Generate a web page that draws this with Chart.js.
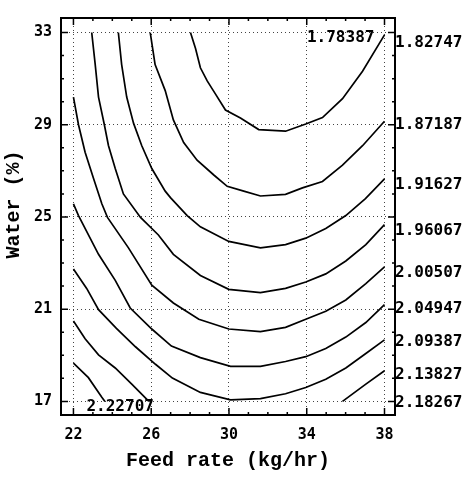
<!DOCTYPE html>
<html>
<head>
<meta charset="utf-8">
<script src="https://cdn.jsdelivr.net/npm/chart.js@4/dist/chart.umd.min.js"></script>
<style>
  html, body { margin: 0; padding: 0; background: #fff; }
  #wrap { width: 468px; height: 477px; position: relative; }
</style>
</head>
<body>
<div id="wrap"><canvas id="contour"></canvas></div>
<script>
// Axes
const xTicks = [22, 26, 30, 34, 38];
const yTicks = [17, 21, 25, 29, 33];

// Contour levels written along the right edge, and where they sit (water %)
const rightLabels = ['1.82747', '1.87187', '1.91627', '1.96067', '2.00507', '2.04947', '2.09387', '2.13827', '2.18267'];
const rightLabelAt = [32.54, 29.0, 26.41, 24.39, 22.57, 21.01, 19.58, 18.14, 16.92];

// Labels written inside the plot
const innerLabels = ['1.78387', '2.22707'];
const innerLabelAt = [[37.48, 32.75], [22.67, 16.75]];

// Contour lines, [feed rate, water]
const c1 = [[28.02, 33], [28.28, 32.31], [28.53, 31.47], [28.88, 30.90], [29.30, 30.34], [29.82, 29.64], [30.59, 29.29], [31.53, 28.79], [32.91, 28.72], [33.95, 29.03], [34.81, 29.31], [35.84, 30.13], [36.87, 31.32], [38, 32.9]];
const c2 = [[25.95, 33], [26.20, 31.61], [26.72, 30.48], [27.14, 29.21], [27.67, 28.23], [28.36, 27.46], [29.22, 26.82], [29.91, 26.33], [30.76, 26.12], [31.62, 25.91], [32.91, 25.98], [33.78, 26.26], [34.81, 26.54], [35.84, 27.25], [36.87, 28.09], [38, 29.15]];
const c3 = [[24.31, 33], [24.48, 31.61], [24.74, 30.20], [25.09, 29.07], [25.51, 28.10], [26.03, 27.10], [26.72, 26.12], [26.99, 25.84], [27.85, 25.06], [28.53, 24.57], [29.99, 23.94], [31.62, 23.66], [32.91, 23.80], [33.95, 24.08], [34.98, 24.50], [36.01, 25.06], [37.02, 25.80], [38, 26.65]];
const c4 = [[22.94, 33], [23.12, 31.61], [23.29, 30.20], [23.59, 29.0], [23.80, 28.10], [24.15, 27.10], [24.57, 26.0], [25.45, 24.98], [26.37, 24.22], [27.14, 23.38], [28.53, 22.46], [29.99, 21.86], [31.62, 21.72], [32.91, 21.90], [33.95, 22.18], [34.98, 22.53], [36.01, 23.09], [37.04, 23.80], [38, 24.67]];
const c5 = [[22, 30.20], [22.26, 29.0], [22.60, 27.81], [23.03, 26.68], [23.46, 25.57], [23.75, 24.98], [24.83, 23.66], [26.03, 22.04], [27.14, 21.27], [28.45, 20.56], [29.99, 20.14], [31.62, 20.03], [32.91, 20.21], [33.95, 20.56], [34.98, 20.91], [36.01, 21.40], [37.04, 22.11], [38, 22.83]];
const c6 = [[22, 25.57], [22.26, 25.06], [23.29, 23.38], [24.15, 22.25], [24.92, 21.05], [26.03, 20.14], [27.04, 19.4], [28.53, 18.90], [30.08, 18.52], [31.62, 18.52], [32.91, 18.73], [33.95, 18.94], [34.98, 19.29], [36.01, 19.79], [37.04, 20.42], [38, 21.2]];
const c7 = [[22, 22.74], [22.68, 21.90], [23.29, 20.98], [24.21, 20.17], [25.19, 19.37], [26.22, 18.61], [27.09, 18.01], [28.53, 17.39], [30.08, 17.07], [31.62, 17.12], [32.91, 17.33], [33.95, 17.60], [34.98, 17.96], [36.01, 18.45], [37.04, 19.08], [38, 19.67]];
const c8 = [[35.84, 17], [37.04, 17.75], [38, 18.33]];
const c9 = [[22, 20.49], [22.60, 19.72], [23.29, 19.02], [24.15, 18.45], [25.0, 17.75], [25.88, 17]];
const c10 = [[22, 18.66], [22.77, 18.03], [23.46, 17.18], [23.62, 17]];

const contours = [c1, c2, c3, c4, c5, c6, c7, c8, c9, c10];

const monoFont = 'DejaVu Sans Mono';
const titleFont = 'Liberation Mono';

// Cadre + petites graduations vers l'intérieur, et étiquettes dans le tracé
const frameAndLabels = {
    id: 'frameAndLabels',
    afterDraw(chart) {
        const { ctx, chartArea: a, scales: { x, y } } = chart;
        ctx.save();
        ctx.strokeStyle = '#000';
        ctx.lineWidth = 1.5;
        for (let v = xTicks[0]; v <= xTicks[xTicks.length - 1]; v++) {
            const px = x.getPixelForValue(v);
            const len = xTicks.includes(v) ? 7 : 3;
            ctx.beginPath();
            ctx.moveTo(px, a.bottom); ctx.lineTo(px, a.bottom - len);
            ctx.moveTo(px, a.top); ctx.lineTo(px, a.top + len);
            ctx.stroke();
        }
        for (let v = yTicks[0]; v <= yTicks[yTicks.length - 1]; v++) {
            const py = y.getPixelForValue(v);
            const len = yTicks.includes(v) ? 7 : 3;
            ctx.beginPath();
            ctx.moveTo(a.left, py); ctx.lineTo(a.left + len, py);
            ctx.moveTo(a.right, py); ctx.lineTo(a.right - len, py);
            ctx.stroke();
        }
        ctx.lineWidth = 2;
        ctx.strokeRect(a.left, a.top, a.right - a.left, a.bottom - a.top);

        ctx.fillStyle = '#000';
        ctx.font = `bold 16px "${monoFont}"`;
        ctx.textBaseline = 'middle';
        ctx.textAlign = 'right';
        ctx.fillText(innerLabels[0], x.getPixelForValue(innerLabelAt[0][0]), y.getPixelForValue(innerLabelAt[0][1]));
        ctx.textAlign = 'left';
        ctx.fillText(innerLabels[1], x.getPixelForValue(innerLabelAt[1][0]), y.getPixelForValue(innerLabelAt[1][1]));
        ctx.restore();
    }
};

const gridStyle = { color: '#444', lineWidth: 1, drawTicks: false };

new Chart(document.getElementById('contour').getContext('2d'), {
    type: 'scatter',
    data: {
        datasets: contours.map(pts => ({
            data: pts.map(([px, py]) => ({ x: px, y: py })),
            showLine: true,
            borderColor: '#000',
            borderWidth: 1.7,
            pointRadius: 0,
            tension: 0,
            yAxisID: 'y'
        }))
    },
    options: {
        responsive: true,
        maintainAspectRatio: false,
        animation: false,
        layout: { padding: { top: 7, left: 0, right: 0, bottom: 0 } },
        plugins: { legend: { display: false }, tooltip: { enabled: false } },
        scales: {
            x: {
                type: 'linear',
                min: 21.36,
                max: 38.54,
                afterBuildTicks: s => { s.ticks = xTicks.map(v => ({ value: v })); },
                afterFit: s => { s.height = 62; },
                grid: gridStyle,
                border: { display: false, dash: [1, 3] },
                ticks: { color: '#000', padding: 11, font: { family: monoFont, size: 15, weight: 'bold' } },
                title: {
                    display: true,
                    text: 'Feed rate (kg/hr)',
                    color: '#000',
                    padding: { top: 0, bottom: 4 },
                    font: { family: titleFont, size: 20, weight: 'bold' }
                }
            },
            y: {
                type: 'linear',
                position: 'left',
                min: 16.41,
                max: 33.63,
                afterBuildTicks: s => { s.ticks = yTicks.map(v => ({ value: v })); },
                afterFit: s => { s.width = 61; },
                grid: gridStyle,
                border: { display: false, dash: [1, 3] },
                ticks: { color: '#000', padding: 9, font: { family: monoFont, size: 15, weight: 'bold' } },
                title: {
                    display: true,
                    text: '  Water (%)',
                    color: '#000',
                    padding: { top: 2, bottom: 0 },
                    font: { family: titleFont, size: 20, weight: 'bold' }
                }
            },
            y2: {
                type: 'linear',
                position: 'right',
                min: 16.41,
                max: 33.63,
                afterBuildTicks: s => { s.ticks = rightLabelAt.map(v => ({ value: v })); },
                afterFit: s => { s.width = 73; },
                grid: { display: false, drawTicks: false },
                border: { display: false },
                ticks: {
                    color: '#000',
                    padding: 0,
                    callback: (v, i) => rightLabels[i],
                    font: { family: monoFont, size: 16, weight: 'bold' }
                }
            }
        }
    },
    plugins: [frameAndLabels]
});
</script>
</body>
</html>
